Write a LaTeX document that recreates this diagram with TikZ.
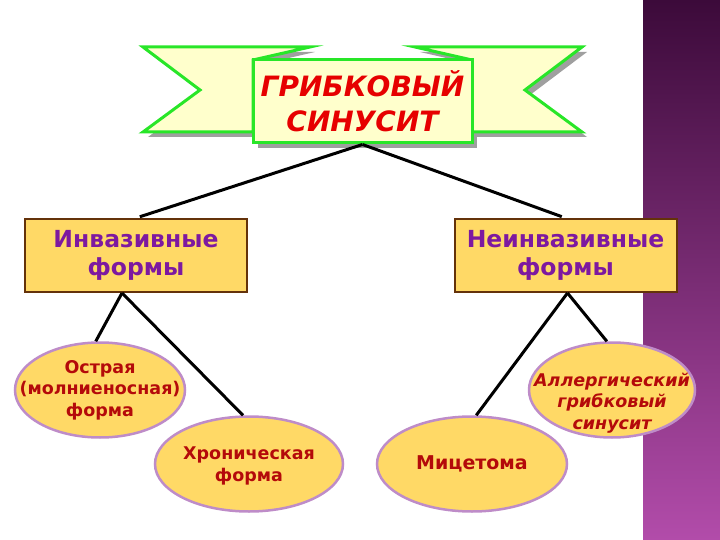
\documentclass[tikz,border=0pt]{standalone}
\usepackage{fontspec}
\setmainfont{DejaVu Sans}
\usetikzlibrary{shapes.geometric, positioning}
\definecolor{ribbonfill}{RGB}{255,255,204}
\definecolor{ribbongreen}{RGB}{40,230,40}
\definecolor{boxfill}{RGB}{255,217,102}
\definecolor{boxline}{RGB}{100,50,10}
\definecolor{boxtext}{RGB}{125,25,160}
\definecolor{ovalline}{RGB}{190,140,200}
\definecolor{ovaltext}{RGB}{180,10,10}
\definecolor{titletext}{RGB}{230,0,0}
\definecolor{bandtop}{RGB}{60,10,58}
\definecolor{bandbot}{RGB}{178,76,170}
\tikzset{
  ribbon/.style    = {fill=ribbonfill, draw=ribbongreen, line width=3pt, line join=miter},
  ribshadow/.style = {fill=gray!75},
  form/.style      = {rectangle, draw=boxline, fill=boxfill, line width=2pt,
                      minimum width=222pt, minimum height=73pt, align=center,
                      text=boxtext, font=\fontsize{23.5}{28}\selectfont\bfseries},
  oval/.style      = {ellipse, draw=ovalline, fill=boxfill, line width=2.5pt,
                      minimum height=95pt},
  ovaltxt/.style   = {align=center, text=ovaltext, inner sep=0pt,
                      font=\fontsize{17.5}{21.5}\selectfont\bfseries},
  link/.style      = {line width=3pt, black},
}

\begin{document}
\begin{tikzpicture}[x=1pt, y=-1pt]
  \useasboundingbox (0,0) rectangle (720,540);

  % -- purple band on the right ------------------------------------------
  \shade[top color=bandtop, bottom color=bandbot] (643,0) rectangle (720,540);

  % -- ribbon shadow -------------------------------------------------------
  \begin{scope}[shift={(5,5)}]
    \fill[ribshadow] (143,47) -- (310,47) -- (253,60) -- (253,132) -- (143,132) -- (200,90) -- cycle;
    \fill[ribshadow] (582,47) -- (415,47) -- (472,60) -- (472,132) -- (582,132) -- (525,90) -- cycle;
    \fill[ribshadow] (253,60) rectangle (472,143);
  \end{scope}

  % -- ribbon tails --------------------------------------------------------
  \draw[ribbon] (143,47) -- (310,47) -- (253,60) -- (253,132) -- (143,132) -- (200,90) -- cycle;
  \draw[ribbon] (582,47) -- (415,47) -- (472,60) -- (472,132) -- (582,132) -- (525,90) -- cycle;

  % -- title ---------------------------------------------------------------
  \node[ribbon, rectangle, minimum width=219pt, minimum height=83pt, align=center,
        text=titletext, font=\fontsize{28}{35}\selectfont\bfseries\itshape]
        (title) at (362.5,101.5) {ГРИБКОВЫЙ\\СИНУСИТ};

  % -- forms ---------------------------------------------------------------
  \node[form] (inv)  at (136,255.5)   {Инвазивные\\формы};
  \node[form] (rinv) at (565.5,255.5) {Неинвазивные\\формы};

  % -- ovals ---------------------------------------------------------------
  \node[oval, minimum width=170pt] (acute)  at (100,390) {};
  \node[oval, minimum width=188pt] (chron)  at (249,464) {};
  \node[oval, minimum width=190pt] (myc)    at (472,464) {};
  \node[oval, minimum width=166pt] (allerg) at (612,390) {};

  \node[ovaltxt] at (acute) {Острая\\(молниеносная)\\форма};
  \node[ovaltxt] at (249,466) {Хроническая\\форма};
  \node[ovaltxt, font=\fontsize{19}{23}\selectfont\bfseries] at (myc) {Мицетома};
  \node[ovaltxt, font=\fontsize{17.5}{21.5}\selectfont\bfseries\itshape] at (612,403)
        {Аллергический\\грибковый\\синусит};

  % -- connectors ----------------------------------------------------------
  \draw[link, shorten >=4pt] (title.south) -- (inv.north);
  \draw[link, shorten >=4pt] (title.south) -- (rinv.north);
  \draw[link] ([xshift=-14pt]inv.south) -- (acute.95);
  \draw[link] ([xshift=-14pt]inv.south) -- (chron.97);
  \draw[link] ([xshift=2pt]rinv.south)  -- (myc.85);
  \draw[link] ([xshift=2pt]rinv.south)  -- (allerg.96);
\end{tikzpicture}
\end{document}
